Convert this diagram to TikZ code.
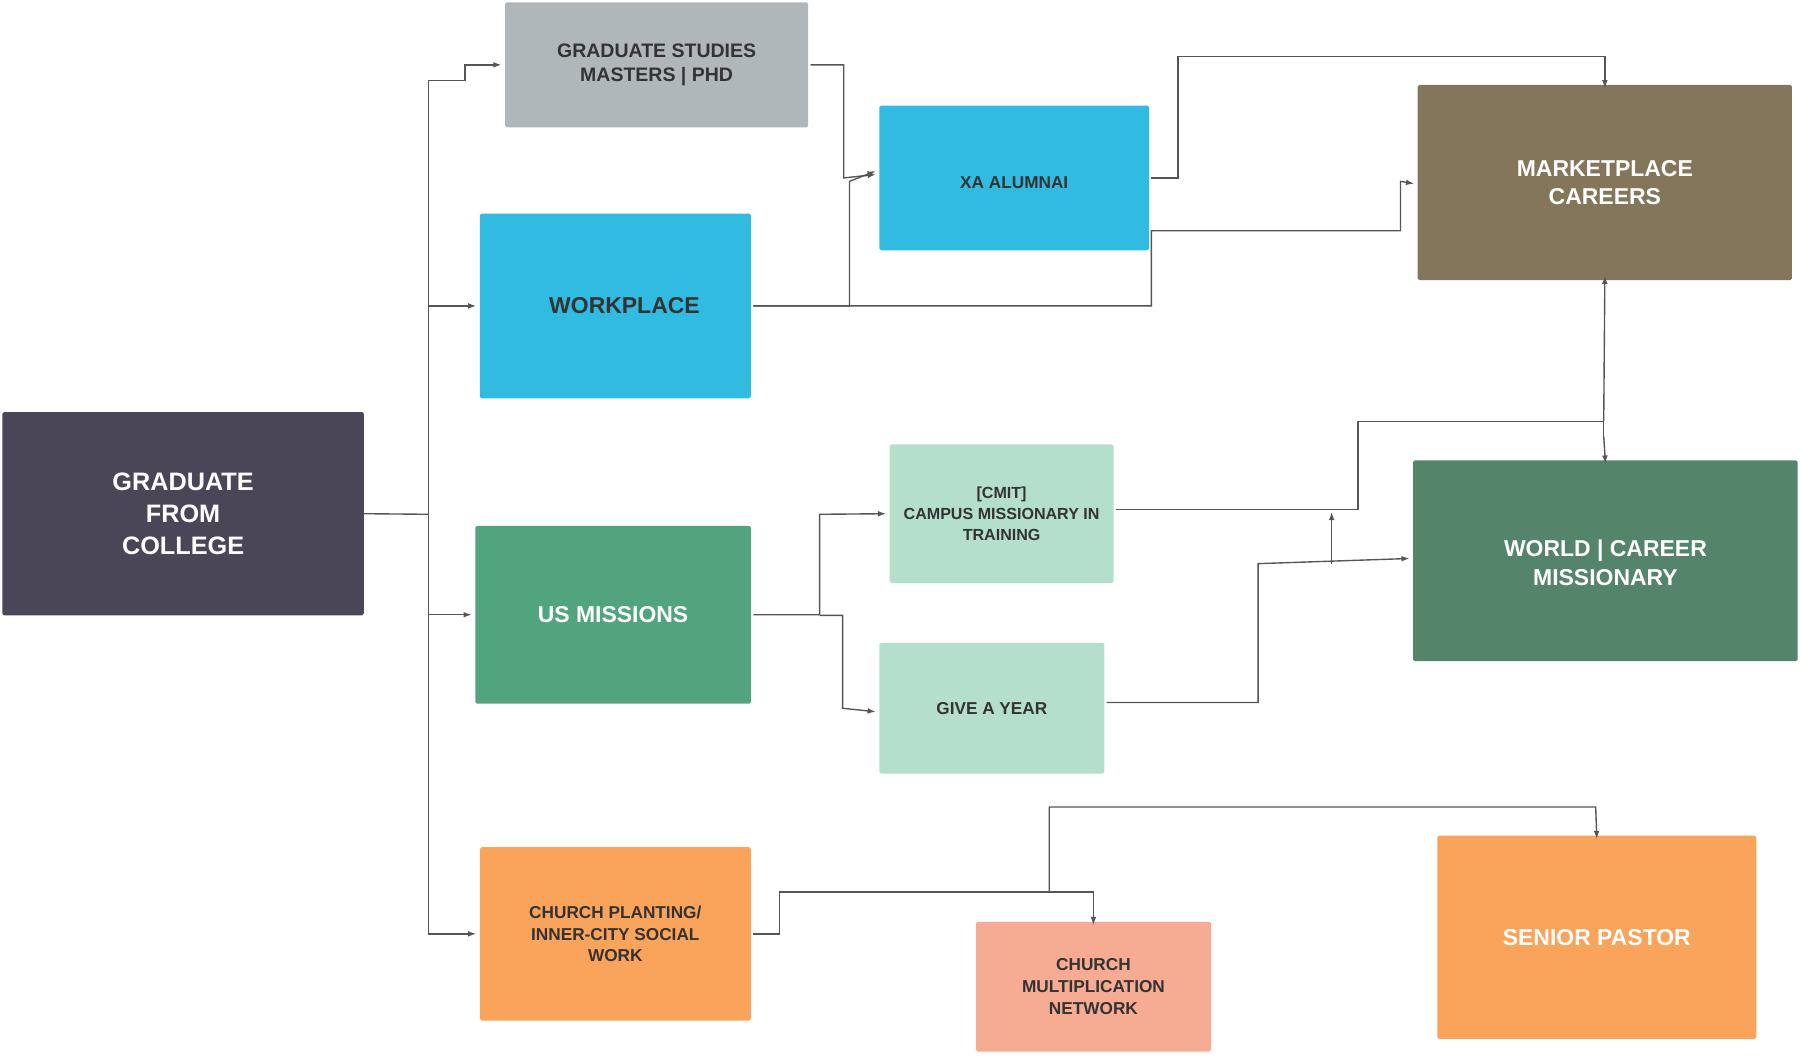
\documentclass[tikz,border=0pt]{standalone}
\usepackage{fontspec}
\setmainfont{Liberation Sans}
\usetikzlibrary{arrows.meta}
\definecolor{cgrad}{HTML}{4A4658}
\definecolor{cgs}{HTML}{B0B7B9}
\definecolor{cblue}{HTML}{31BBE0}
\definecolor{cmark}{HTML}{84765A}
\definecolor{cmint}{HTML}{B5DFCD}
\definecolor{cus}{HTML}{52A47E}
\definecolor{cworld}{HTML}{548469}
\definecolor{corange}{HTML}{F9A35B}
\definecolor{csalmon}{HTML}{F6AB93}
\definecolor{cline}{HTML}{555555}
\newcommand{\boxat}[6]{% name, x1, y1, x2, y2, style
  \node[#6, minimum width=#4-#2, minimum height=#5-#3] (#1) at ({(#2+#4)/2},{(#3+#5)/2}) {};}
\begin{document}
\begin{tikzpicture}[x=1pt,y=-1pt,
  card/.style={rounded corners=1.5pt, inner sep=0pt, draw=none},
  lbl/.style={font=\bfseries\fontsize{#1}{\the\numexpr#1*5/4\relax}\selectfont, align=center},
  link/.style={cline, line width=1.2pt, -{Latex[length=7pt,width=5pt]}},
  plain/.style={cline, line width=1.2pt},
]
\useasboundingbox (0,0) rectangle (1568,920);

%--- boxes --------------------------------------------------------------
\boxat{grad}{2}{359}{317}{536}{card,fill=cgrad}
\boxat{gs}{440}{2}{704}{111}{card,fill=cgs}
\boxat{wp}{418}{186}{654}{347}{card,fill=cblue}
\boxat{xa}{766}{92}{1001}{218}{card,fill=cblue}
\boxat{mc}{1235}{74}{1561}{244}{card,fill=cmark}
\boxat{cmit}{775}{387}{970}{508}{card,fill=cmint}
\boxat{us}{414}{458}{654}{613}{card,fill=cus}
\boxat{gy}{766}{560}{962}{674}{card,fill=cmint}
\boxat{wcm}{1231}{401}{1566}{576}{card,fill=cworld}
\boxat{cp}{418}{738}{654}{889}{card,fill=corange}
\boxat{cmn}{850}{803}{1055}{916}{card,fill=csalmon}
\boxat{sp}{1252}{728}{1530}{905}{card,fill=corange}

%--- labels -------------------------------------------------------------
\node[lbl=22,white] (gradt) at (grad) {GRADUATE\\FROM\\COLLEGE};
\node[lbl=17,black!80] (gst) at (gs) {GRADUATE STUDIES\\MASTERS | PHD};
\node[lbl=20,black!80] (wpt) at ([xshift=8]wp.center) {WORKPLACE};
\node[lbl=15,black!80] (xat) at ([yshift=-4]xa.center) {XA ALUMNAI};
\node[lbl=20,white] (mct) at (mc) {MARKETPLACE\\CAREERS};
\node[lbl=14,black!80] (cmitt) at (cmit) {[CMIT]\\CAMPUS MISSIONARY IN\\TRAINING};
\node[lbl=20,white] (ust) at (us) {US MISSIONS};
\node[lbl=15,black!80] (gyt) at (gy) {GIVE A YEAR};
\node[lbl=20,white] (wcmt) at ([yshift=-2]wcm.center) {WORLD | CAREER\\MISSIONARY};
\node[lbl=15,black!80] (cpt) at (cp) {CHURCH PLANTING/\\INNER-CITY SOCIAL\\WORK};
\node[lbl=15,black!80] (cmnt) at (cmn) {CHURCH\\MULTIPLICATION\\NETWORK};
\node[lbl=20,white] (spt) at (sp) {SENIOR PASTOR};

%--- connectors ---------------------------------------------------------
\coordinate (bus) at (373,448);
\draw[plain] (grad.east) -- (bus);
\draw[link] (bus) |- (405,70) |- ([xshift=-3]gs.west);
\draw[link] (bus) |- ([xshift=-3]wp.west);
\draw[link] (bus) |- ([xshift=-3]us.west);
\draw[link] (bus) |- ([xshift=-3]cp.west);

\draw[link] ([xshift=2]gs.east) -| (735,155) -- ([xshift=-3,yshift=3]xa.west);
\draw[link] ([xshift=2]wp.east) -| (740,158) -- ([xshift=-3,yshift=6]xa.west);
\draw[link] ([xshift=2]wp.east) -| (1003,201) -| (1220,158) -- ([xshift=-3,yshift=-1]mc.west);
\draw[link] (1003,155) -| (1026,49) -| ([yshift=-3]mc.north);

\draw[link] ([xshift=2]us.east) -| (714,448) -- ([xshift=-3]cmit.west);
\draw[link] (714,536) -| (734,617) -- ([xshift=-3,yshift=-3]gy.west);
\draw[plain] (972,444) -| (1183,367) -| (1397,380);
\draw[link] (1397,380) -- ([yshift=-3]wcm.north);
\draw[link] (1397,367) -- ([yshift=4]mc.south);
\draw[link] (964,612) -| (1096,491) -- ([xshift=-3,yshift=2]wcm.west);
\draw[link] (1160,491) -- (1160,446);

\draw[link] ([xshift=2]cp.east) -| (679,777) -| ([yshift=-3]cmn.north);
\draw[link] (914,777) |- (1390,703) -- ([yshift=-3]sp.north);
\end{tikzpicture}
\end{document}
